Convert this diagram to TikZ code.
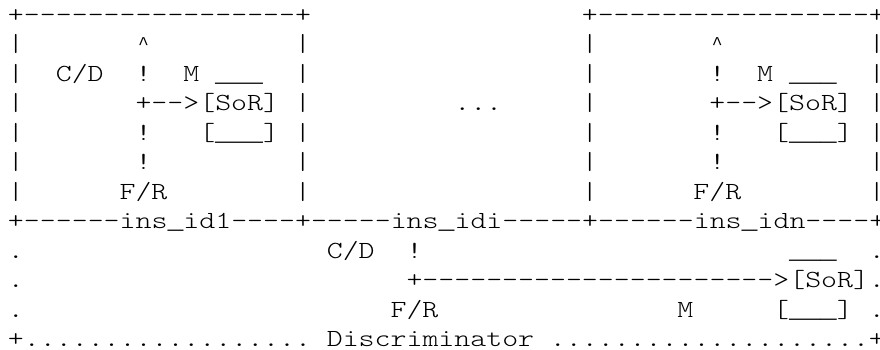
\documentclass[tikz,border=0pt]{standalone}
\usepackage{fontspec}
% light serif typewriter face, widened to a 0.6em-per-character grid
\newfontfamily\monoface{lmmonolt10-regular.otf}[FakeStretch=1.235]
% face with joined underscores and a pointed caret, same grid width
\newfontfamily\symface{Liberation Mono}
\newcommand\asciifont{\monoface\fontsize{24.6pt}{29.45pt}\selectfont}
\newcommand\symsize{\symface\fontsize{26.57pt}{29.45pt}\selectfont}
\newcommand\us{{\symsize\_}}
% small caret, centred in one character cell
\newcommand\caret{\makebox[15.94pt][c]{\raisebox{2pt}{\symface\fontsize{18pt}{18pt}\selectfont\textasciicircum}}}
% character grid: column width and line pitch
\newcommand\cw{15.94pt}
\newcommand\lp{29.45pt}
\tikzset{asc/.style={anchor=base west, inner sep=0pt, outer sep=0pt, font=\asciifont, text=black}}
% \tx{name}{column}{row}{text}
\newcommand\tx[4]{\node[asc] (#1) at ({8pt+\cw*#2},{-22.5pt-\lp*#3}) {#4};}
\begin{document}
\begin{tikzpicture}
\useasboundingbox (0,0) rectangle (880pt,-349pt);
% row 0: tops of the two instance boxes
\tx{r0a}{0}{0}{+-----------------+}
\tx{r0b}{36}{0}{+-----------------+}
% row 1
\tx{r1a}{0}{1}{|}
\tx{r1b}{8}{1}{\caret}
\tx{r1c}{18}{1}{|}
\tx{r1d}{36}{1}{|}
\tx{r1e}{44}{1}{\caret}
\tx{r1f}{54}{1}{|}
% row 2
\tx{r2a}{0}{2}{|}
\tx{r2b}{3}{2}{C/D}
\tx{r2c}{8}{2}{!}
\tx{r2d}{11}{2}{M}
\tx{r2e}{13}{2}{\us\us\us}
\tx{r2f}{18}{2}{|}
\tx{r2g}{36}{2}{|}
\tx{r2h}{44}{2}{!}
\tx{r2i}{47}{2}{M}
\tx{r2j}{49}{2}{\us\us\us}
\tx{r2k}{54}{2}{|}
% row 3
\tx{r3a}{0}{3}{|}
\tx{r3b}{8}{3}{+-{}->[SoR]}
\tx{r3c}{18}{3}{|}
\tx{r3d}{28}{3}{...}
\tx{r3e}{36}{3}{|}
\tx{r3f}{44}{3}{+-{}->[SoR]}
\tx{r3g}{54}{3}{|}
% row 4
\tx{r4a}{0}{4}{|}
\tx{r4b}{8}{4}{!}
\tx{r4c}{12}{4}{[\us\us\us]}
\tx{r4d}{18}{4}{|}
\tx{r4e}{36}{4}{|}
\tx{r4f}{44}{4}{!}
\tx{r4g}{48}{4}{[\us\us\us]}
\tx{r4h}{54}{4}{|}
% row 5
\tx{r5a}{0}{5}{|}
\tx{r5b}{8}{5}{!}
\tx{r5c}{18}{5}{|}
\tx{r5d}{36}{5}{|}
\tx{r5e}{44}{5}{!}
\tx{r5f}{54}{5}{|}
% row 6
\tx{r6a}{0}{6}{|}
\tx{r6b}{7}{6}{F/R}
\tx{r6c}{18}{6}{|}
\tx{r6d}{36}{6}{|}
\tx{r6e}{43}{6}{F/R}
\tx{r6f}{54}{6}{|}
% row 7: shared bottom edge with the instance ids
\tx{r7}{0}{7}{+------ins\us id1----+-----ins\us idi-----+------ins\us idn----+}
% row 8
\tx{r8a}{0}{8}{.}
\tx{r8b}{20}{8}{C/D}
\tx{r8c}{25}{8}{!}
\tx{r8d}{49}{8}{\us\us\us}
\tx{r8e}{54}{8}{.}
% row 9
\tx{r9a}{0}{9}{.}
\tx{r9b}{25}{9}{+---------------------->[SoR]}
\tx{r9c}{54}{9}{.}
% row 10
\tx{r10a}{0}{10}{.}
\tx{r10b}{24}{10}{F/R}
\tx{r10c}{42}{10}{M}
\tx{r10d}{48}{10}{[\us\us\us]}
\tx{r10e}{54}{10}{.}
% row 11: discriminator frame
\tx{r11a}{0}{11}{+..................}
\tx{r11b}{20}{11}{Discriminator}
\tx{r11c}{34}{11}{....................+}
\end{tikzpicture}
\end{document}
